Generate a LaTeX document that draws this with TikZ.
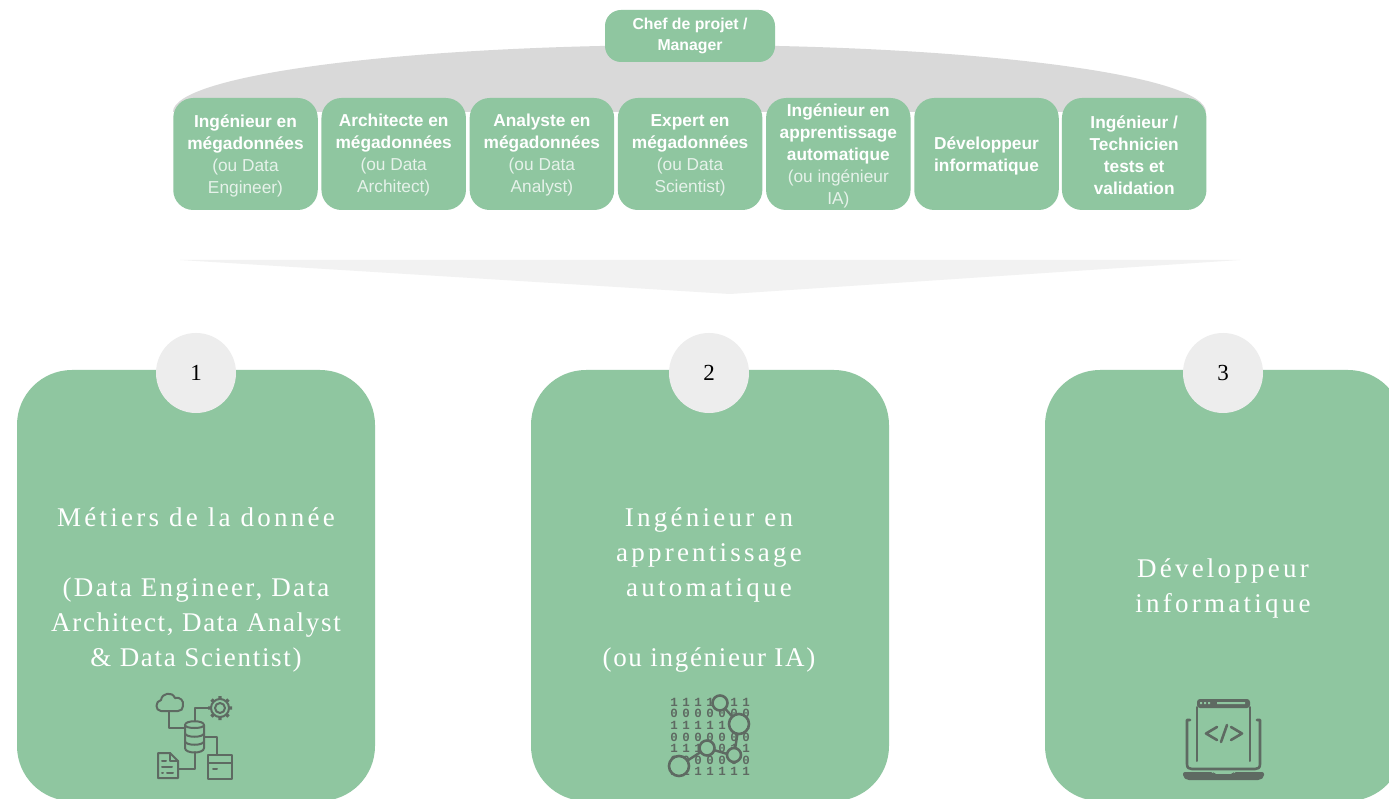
\documentclass[tikz,border=0pt]{standalone}
\usepackage{fontspec}
\setmainfont{Liberation Serif}
\newfontfamily\sansf{Liberation Sans}
\newfontfamily\headf[LetterSpace=12]{Liberation Serif}
\newfontfamily\subf[LetterSpace=8.5]{Liberation Serif}
\newfontfamily\subbf[LetterSpace=6.3]{Liberation Serif}
\newfontfamily\monof[LetterSpace=36]{Liberation Mono}
\definecolor{vert}{HTML}{8FC6A0}
\definecolor{gris}{HTML}{D9D9D9}
\definecolor{pale}{HTML}{F2F2F2}
\definecolor{rond}{HTML}{EDEDED}
\definecolor{icone}{HTML}{5E6A62}
\definecolor{clair}{HTML}{E6F2EA}
\tikzset{
  petit/.style={draw=none,fill=vert,rounded corners=20pt,minimum width=144.5pt,minimum height=112pt,inner sep=0pt},
  metier/.style={inner sep=0pt,align=center,text=white,font=\sansf\fontsize{17.3}{22}\selectfont},
  chef/.style={draw=none,fill=vert,rounded corners=16pt,minimum width=170pt,minimum height=52pt,inner sep=0pt,
    align=center,text=white,font=\sansf\bfseries\fontsize{15.8}{21}\selectfont},
  grand/.style={draw=none,fill=vert,rounded corners=55pt,minimum width=358pt,minimum height=431pt,inner sep=0pt},
  titre/.style={align=center,text=white,inner sep=0pt,font=\fontsize{27}{35}\selectfont},
  numero/.style={circle,draw=none,fill=rond,minimum size=80pt,inner sep=0pt,text=black,font=\fontsize{23}{26}\selectfont},
  ico/.style={draw=icone,line width=2pt,line join=round,line cap=round},
  bits/.style={text=icone,inner sep=0pt,font=\monof\bfseries\fontsize{12.5}{13}\selectfont},
  anneau/.style={draw=icone,fill=vert,line width=2.6pt}
}
\newcommand{\grasx}[1]{\textbf{#1}}
\newcommand{\legerx}[1]{\textcolor{clair}{#1}}
\begin{document}
\begin{tikzpicture}[x=1pt,y=-1pt]
\useasboundingbox (0,0) rectangle (1389,799);
\clip (0,0) rectangle (1389,799);
\fill[white] (0,0) rectangle (1389,799);
% grey dome and pale chevron
\fill[gris] (173,112) arc[start angle=180,end angle=0,x radius=516.5pt,y radius=67pt] -- cycle;
\fill[pale] (180,260) -- (1240,260) -- (730,294) -- cycle;
% top row
\node[chef] (chefp) at (690,36) {Chef de projet /\\Manager};
\node[petit] (b1) at (245.5,154) {};
\node[petit] (b2) at (393.7,154) {};
\node[petit] (b3) at (541.9,154) {};
\node[petit] (b4) at (690.1,154) {};
\node[petit] (b5) at (838.3,154) {};
\node[petit] (b6) at (986.5,154) {};
\node[petit] (b7) at (1134.2,154) {};
\node[metier] (l1) at ([yshift=-1.5pt]b1.center) {\grasx{Ingénieur en}\\\grasx{mégadonnées}\\\legerx{(ou Data}\\\legerx{Engineer)}};
\node[metier] (l2) at ([yshift=-1.5pt]b2.center) {\grasx{Architecte en}\\\grasx{mégadonnées}\\\legerx{(ou Data}\\\legerx{Architect)}};
\node[metier] (l3) at ([yshift=-1.5pt]b3.center) {\grasx{Analyste en}\\\grasx{mégadonnées}\\\legerx{(ou Data}\\\legerx{Analyst)}};
\node[metier] (l4) at ([yshift=-1.5pt]b4.center) {\grasx{Expert en}\\\grasx{mégadonnées}\\\legerx{(ou Data}\\\legerx{Scientist)}};
\node[metier] (l5) at ([yshift=-1.5pt]b5.center) {\grasx{Ingénieur en}\\\grasx{apprentissage}\\\grasx{automatique}\\\legerx{(ou ingénieur}\\\legerx{IA)}};
\node[metier] (l6) at ([yshift=-1.5pt]b6.center) {\grasx{Développeur}\\\grasx{informatique}};
\node[metier] (l7) at ([yshift=-1.5pt]b7.center) {\grasx{Ingénieur /}\\\grasx{Technicien}\\\grasx{tests et}\\\grasx{validation}};
% big cards
\node[grand] (g1) at (196,585.5) {};
\node[grand] (g2) at (710,585.5) {};
\node[grand] (g3) at (1224,585.5) {};
\node[numero] (n1) at (196,373) {1};
\node[numero] (n2) at (709,373) {2};
\node[numero] (n3) at (1223,373) {3};
\node[titre] (t1) at (196,590) {{\headf Métiers de la donnée}\\[35pt]{\subf (Data Engineer, Data}\\{\subbf Architect, Data Analyst}\\{\subbf\& Data Scientist)}};
\node[titre] (t2) at (709,590) {{\headf Ingénieur en}\\{\headf apprentissage}\\{\headf automatique}\\[35pt]{\subbf (ou ingénieur IA)}};
\node[titre] (t3) at (1223,588) {{\headf Développeur}\\{\headf informatique}};
% icon 1: data
\begin{scope}[ico]
  % cloud
  \draw (161,711) .. controls (155,711) and (155,701) .. (161,700)
        .. controls (162,693) and (172,691) .. (175,698)
        .. controls (180,697) and (184,700) .. (183,706)
        .. controls (183,709) and (181,711) .. (178,711) -- cycle;
  \draw (169,711) -- (169,728) -- (185,728);
  % database
  \draw (185,725) -- (185,748) .. controls (185,754) and (204,754) .. (204,748) -- (204,725);
  \draw (185,725) .. controls (185,720) and (204,720) .. (204,725) .. controls (204,729) and (185,729) .. (185,725);
  \draw (185,733) .. controls (185,738) and (204,738) .. (204,733);
  \draw (185,741) .. controls (185,746) and (204,746) .. (204,741);
  % gear
  \draw (220,708) circle[radius=5pt];
  \draw (220,708) circle[radius=9pt];
  \draw[line width=3.4pt,line cap=butt] (220,696) -- (220,699) (220,717) -- (220,720) (208,708) -- (211,708) (229,708) -- (232,708)
     (211.5,699.5) -- (213.6,701.6) (226.4,714.4) -- (228.5,716.5) (211.5,716.5) -- (213.6,714.4) (226.4,701.6) -- (228.5,699.5);
  \draw (195,721) -- (195,708) -- (208,708);
  % document
  \draw (158,753) -- (170,753) -- (178,761) -- (178,778) -- (158,778) -- cycle;
  \draw (170,753) -- (170,761) -- (178,761);
  \draw (162,761) -- (166,761) (162,767) -- (172,767) (162,773) -- (163,773) (167,773) -- (173,773);
  \draw (195,752) -- (195,769) -- (178,769);
  % folder
  \draw (208,755) -- (232,755) -- (232,779) -- (208,779) -- cycle;
  \draw (208,763) -- (232,763);
  \draw (213,769) -- (217,769);
  \draw (204,737) -- (217,737) -- (217,755);
\end{scope}
% icon 2: binary
\node[bits] (r1) at (710,702) {1111111};
\node[bits] (r2) at (710,713.5) {0000000};
\node[bits] (r3) at (710,725) {1111111};
\node[bits] (r4) at (710,737) {0000000};
\node[bits] (r5) at (710,748) {1110011};
\node[bits] (r6) at (710,760) {0000000};
\node[bits] (r7) at (710,771) {1111111};
\draw[icone,line width=2.4pt] (679,766) -- (707,748) -- (734,756) -- (739,724) -- (720,703);
\node[anneau,circle,minimum size=20pt,inner sep=0pt] (c1) at (679,766) {};
\node[anneau,circle,minimum size=15pt,inner sep=0pt] (c2) at (707,748) {};
\node[anneau,circle,minimum size=14pt,inner sep=0pt] (c3) at (734,755) {};
\node[anneau,circle,minimum size=20pt,inner sep=0pt] (c4) at (739,724) {};
\node[anneau,circle,minimum size=15pt,inner sep=0pt] (c5) at (720,703) {};
% icon 3: laptop
\begin{scope}[ico]
  \fill[icone,rounded corners=3pt] (1197,699) rectangle (1250,708) ;
  \fill[vert] (1200,702) rectangle (1202,704) (1204,702) rectangle (1206,704) (1208,702) rectangle (1210,704) (1217,702) rectangle (1245,704);
  \draw (1197,707) -- (1197,761) (1250,707) -- (1250,761);
  \draw[line width=2.6pt] (1190,720) -- (1187,720) -- (1187,764) .. controls (1187,768) and (1189,769) .. (1192,769) -- (1255,769) .. controls (1258,769) and (1260,768) .. (1260,764) -- (1260,720) -- (1257,720);
  \fill[icone,rounded corners=2pt] (1183,772) -- (1213,772) -- (1214,774) -- (1233,774) -- (1234,772) -- (1264,772) -- (1264,777) -- (1260,780) -- (1187,780) -- (1183,777) -- cycle;
  \draw[line width=2.6pt] (1217,727) -- (1206,733.5) -- (1217,740);
  \draw[line width=2.6pt] (1231,727) -- (1242,733.5) -- (1231,740);
  \draw[line width=2.6pt] (1227,725) -- (1221,742);
\end{scope}
\end{tikzpicture}
\end{document}
